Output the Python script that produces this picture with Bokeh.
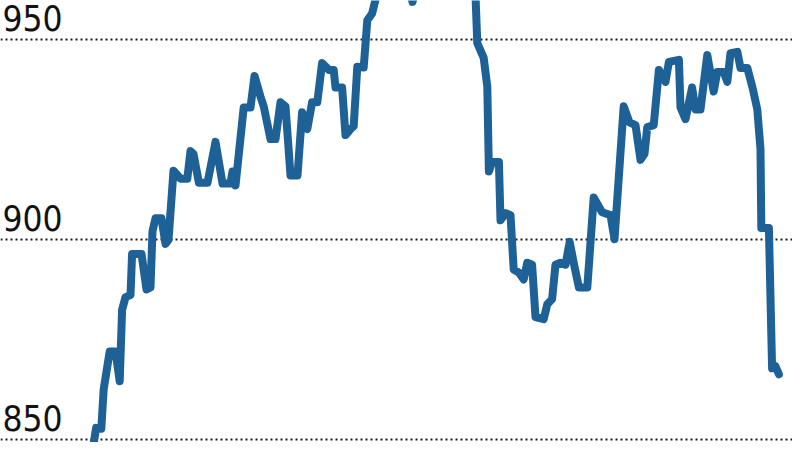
from bokeh.plotting import figure
from bokeh.models import Range1d, FixedTicker, ColumnDataSource
from bokeh.core.properties import value
from bokeh.embed import file_html
from bokeh.resources import INLINE

# trading day index and index level
days = [22.0, 23.3, 23.9, 25.2, 25.8, 27.3, 28.75, 29.8, 30.4, 31.25, 32.5, 32.9, 35.25,
        36.5, 37.5, 38.0, 38.75, 40.25, 41.25, 42.0, 43.25, 45.0, 46.7, 47.5, 48.25, 49.6,
        51.75, 53.75, 55.5, 57.5, 58.0, 58.75, 60.8, 62.5, 63.5, 65.0, 65.8, 67.5, 68.75,
        70.0, 71.25, 72.5, 74.25, 75.4, 76.7, 77.9, 79.2, 80.4, 82.1, 83.3, 83.75, 85.4,
        86.25, 87.5, 88.3, 89.2, 90.8, 91.7, 92.9,
        94.5, 96.25, 98.0, 100.0, 101.5, 103.0, 104.5, 106.5, 108.25, 110.0, 112.0, 113.75,
        115.75, 117.5, 118.75,
        119.2, 120.8, 121.7, 122.1, 122.9, 124.6, 125.0, 126.25, 127.5, 128.3, 129.6, 130.8,
        131.7, 132.9, 133.75, 135.8, 136.7, 137.9, 138.75, 140.0, 141.25, 142.3, 143.3,
        144.6, 146.7, 148.3, 150.4, 152.5, 153.5, 155.8, 157.25, 158.75, 160.0, 161.0,
        161.7, 163.3, 164.6, 166.25, 167.1, 169.6, 170.0, 171.25, 172.9, 173.75, 175.0,
        176.7, 178.3, 179.2, 180.8, 181.7, 182.5, 184.2, 185.0, 186.7, 188.0, 189.2, 190.0,
        190.2, 192.1, 192.9, 193.75, 194.6]

level = [846.0, 849.0, 852.9, 852.7, 862.6, 872.0, 872.0, 864.6, 882.4, 885.6, 886.1, 896.4, 896.4,
         887.5, 888.0, 902.1, 905.3, 905.3, 898.9, 899.9, 917.2, 915.2, 915.2, 922.1, 921.4, 914.2,
         914.2, 924.4, 914.0, 914.0, 917.0, 913.5, 933.0, 933.0, 940.9, 935.7, 933.3, 925.1, 925.1,
         934.3, 933.3, 916.0, 916.0, 931.8, 927.6, 934.3, 934.3, 944.1, 942.4, 942.4, 938.0, 938.0,
         926.1, 927.6, 928.3, 943.2, 943.0, 954.8, 956.5,
         963.0, 968.0, 966.0, 971.0, 967.0, 959.4, 965.0, 972.0, 976.0, 971.0, 978.0, 974.0,
         977.0, 969.0, 961.0,
         949.1, 945.4, 938.2, 917.0, 919.4, 919.4, 904.8, 906.6, 906.1, 892.5, 891.7, 890.0,
         894.2, 893.7, 880.6, 880.1, 883.8, 885.1, 893.7, 894.2, 893.7, 899.4, 894.2,
         888.0, 888.0, 910.5, 906.8, 906.1, 900.1, 933.3, 929.3, 928.6, 919.9, 921.4,
         928.1, 928.6, 942.4, 939.4, 944.4, 944.9, 933.0, 930.1, 938.0, 932.5, 932.5,
         946.1, 937.0, 941.9, 941.9, 939.4, 946.6, 946.9, 942.9, 942.9, 938.0, 932.5, 922.6,
         902.9, 902.9, 867.8, 868.3, 866.3]

tick_values = [850, 900, 950]
tick_labels = ["850", "900", "950"]

X_START, X_END = 0.0, 198.0
Y_START, Y_END = 849.25, 959.75

p = figure(width=792, height=442, output_backend="svg", toolbar_location=None,
           x_range=Range1d(X_START, X_END), y_range=Range1d(Y_START, Y_END),
           min_border=0, min_border_left=0, min_border_right=0,
           min_border_top=0, min_border_bottom=0)
p.outline_line_color = None
p.background_fill_color = "white"
p.border_fill_color = "white"
p.xaxis.visible = False
p.yaxis.visible = False
p.xgrid.visible = False
p.ygrid.ticker = FixedTicker(ticks=tick_values)
p.ygrid.grid_line_color = "#1a1a1a"
p.ygrid.grid_line_width = 2
p.ygrid.grid_line_dash = "2 3"

src = ColumnDataSource(dict(x=days, y=level))
p.line("x", "y", source=src, line_color="#1d6197", line_width=8,
       line_join="round", line_cap="round")

lab = ColumnDataSource(dict(x=[X_START] * len(tick_values), y=tick_values, t=tick_labels))
p.text("x", "y", text="t", source=lab, text_font=value("DejaVu Sans Condensed"),
       text_font_size="35px", text_color="#111111", text_baseline="alphabetic",
       text_align="left", x_offset=2, y_offset=-22)

open("out.html", "w").write(file_html(p, INLINE))
